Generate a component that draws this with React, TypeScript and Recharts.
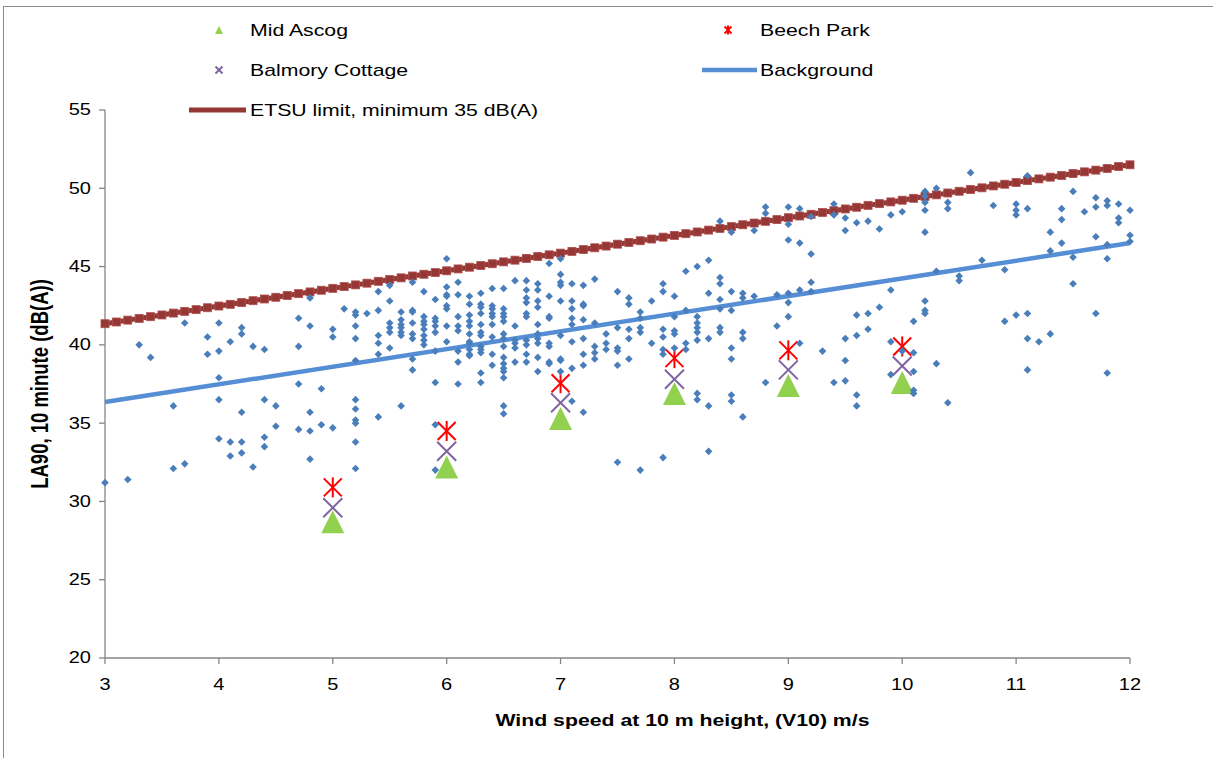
import React from 'react';
import { ScatterChart, Scatter, XAxis, YAxis, Legend, Label } from 'recharts';

const xTicks = [3, 4, 5, 6, 7, 8, 9, 10, 11, 12];
const yTicks = [20, 25, 30, 35, 40, 45, 50, 55];

const legendNames = ['Mid Ascog', 'Beech Park', 'Balmory Cottage', 'Background', 'ETSU limit, minimum 35 dB(A)'];

const siteWind = [5, 6, 7, 8, 9, 10];
const midAscog = [28.7, 32.2, 35.3, 36.9, 37.4, 37.6];
const beechPark = [30.9, 34.5, 37.55, 39.15, 39.65, 39.9];
const balmoryCottage = [29.6, 33.2, 36.3, 37.8, 38.4, 38.65];

const backgroundFitWind = [3, 12];
const backgroundFit = [36.35, 46.5];

const etsuWind = [
  3.0, 3.1, 3.2, 3.3, 3.4, 3.5, 3.6, 3.7, 3.8, 3.9,
  4.0, 4.1, 4.2, 4.3, 4.4, 4.5, 4.6, 4.7, 4.8, 4.9,
  5.0, 5.1, 5.2, 5.3, 5.4, 5.5, 5.6, 5.7, 5.8, 5.9,
  6.0, 6.1, 6.2, 6.3, 6.4, 6.5, 6.6, 6.7, 6.8, 6.9,
  7.0, 7.1, 7.2, 7.3, 7.4, 7.5, 7.6, 7.7, 7.8, 7.9,
  8.0, 8.1, 8.2, 8.3, 8.4, 8.5, 8.6, 8.7, 8.8, 8.9,
  9.0, 9.1, 9.2, 9.3, 9.4, 9.5, 9.6, 9.7, 9.8, 9.9,
  10.0, 10.1, 10.2, 10.3, 10.4, 10.5, 10.6, 10.7, 10.8, 10.9,
  11.0, 11.1, 11.2, 11.3, 11.4, 11.5, 11.6, 11.7, 11.8, 11.9,
  12.0,
];
const etsuLimit = [
  41.35, 41.46, 41.58, 41.69, 41.80, 41.91, 42.03, 42.14, 42.25, 42.37,
  42.48, 42.59, 42.70, 42.82, 42.93, 43.04, 43.15, 43.27, 43.38, 43.49,
  43.61, 43.72, 43.83, 43.94, 44.06, 44.17, 44.28, 44.40, 44.51, 44.62,
  44.73, 44.85, 44.96, 45.07, 45.18, 45.30, 45.41, 45.52, 45.64, 45.75,
  45.86, 45.97, 46.09, 46.20, 46.31, 46.43, 46.54, 46.65, 46.76, 46.88,
  46.99, 47.10, 47.21, 47.33, 47.44, 47.55, 47.67, 47.78, 47.89, 48.00,
  48.12, 48.23, 48.34, 48.46, 48.57, 48.68, 48.79, 48.91, 49.02, 49.13,
  49.24, 49.36, 49.47, 49.58, 49.70, 49.81, 49.92, 50.03, 50.15, 50.26,
  50.37, 50.49, 50.60, 50.71, 50.82, 50.94, 51.05, 51.16, 51.27, 51.39,
  51.50,
];

// background measurements: [wind speed, LA90 values measured at that wind speed]
const backgroundColumns: [number, number[]][] = [
  [3.0, [31.2]],
  [3.2, [31.4]],
  [3.3, [40.0]],
  [3.4, [39.2]],
  [3.6, [36.1, 32.1]],
  [3.7, [41.4, 32.4]],
  [3.9, [40.5, 39.4]],
  [4.0, [41.4, 39.6, 37.9, 36.5, 34.0]],
  [4.1, [40.2, 33.8, 32.9]],
  [4.2, [41.1, 40.7, 35.7, 33.8, 33.1]],
  [4.3, [39.9, 32.2]],
  [4.4, [39.7, 36.5, 34.1, 33.5]],
  [4.5, [36.1, 34.8]],
  [4.7, [41.7, 39.9, 37.5, 34.6]],
  [4.8, [43.0, 41.2, 35.7, 34.5, 32.7]],
  [4.9, [37.2, 34.9]],
  [5.0, [41.0, 40.5, 34.7]],
  [5.1, [42.3]],
  [5.2, [42.1, 41.9, 41.2, 40.4, 39.0, 36.5, 35.9, 35.2, 35.0, 33.8, 32.1]],
  [5.3, [42.0]],
  [5.4, [43.4, 42.2, 40.6, 40.1, 39.4, 35.4]],
  [5.5, [43.8, 42.8, 41.4, 41.1, 40.8, 39.8]],
  [5.6, [42.1, 41.6, 41.3, 41.1, 40.8, 40.6, 36.1]],
  [5.7, [44.0, 42.2, 42.1, 41.4, 40.7, 40.4, 39.1, 38.4]],
  [5.8, [43.4, 41.8, 41.5, 41.3, 41.0, 40.6, 40.3, 40.0]],
  [5.9, [42.9, 41.7, 41.5, 41.2, 40.8, 39.6, 37.6, 34.9, 32.0]],
  [6.0, [45.5, 43.7, 43.2, 43.1, 42.5, 42.3, 41.2, 40.2]],
  [6.1, [44.0, 43.2, 41.8, 41.2, 40.9, 39.6, 38.9, 37.5]],
  [6.2, [43.1, 42.6, 41.9, 41.5, 41.2, 40.7, 40.2, 40.1, 39.7, 39.4, 39.3]],
  [6.3, [43.3, 42.6, 42.4, 42.0, 41.3, 40.8, 40.6, 39.9, 39.7, 39.5, 38.2, 37.6]],
  [6.4, [43.6, 42.5, 42.3, 42.0, 41.8, 41.3, 40.5, 39.4, 38.7]],
  [6.5, [43.6, 42.3, 42.0, 41.8, 41.5, 40.7, 40.4, 39.9, 39.2, 38.8, 38.5, 38.3, 37.9, 36.1, 35.6]],
  [6.6, [44.1, 41.2, 40.3, 40.1, 39.8, 38.9]],
  [6.7, [44.1, 43.5, 43.0, 42.7, 42.0, 41.8, 40.3, 40.0, 39.4, 38.9]],
  [6.8, [43.9, 43.5, 42.8, 42.4, 41.3, 40.7, 40.4, 40.1, 39.2, 38.3]],
  [6.9, [45.2, 43.1, 41.8, 41.7, 40.1, 39.9, 38.9, 38.8]],
  [7.0, [45.5, 44.5, 44.0, 43.8, 42.8, 40.6, 39.1, 39.0, 38.3]],
  [7.1, [43.9, 42.8, 42.3, 41.7, 41.3, 40.2, 38.5, 36.4]],
  [7.2, [43.8, 42.6, 42.5, 41.6, 40.4, 39.4, 38.7, 35.7]],
  [7.3, [44.2, 41.4, 39.9, 39.5, 39.1]],
  [7.4, [40.7, 40.1, 39.7]],
  [7.5, [43.4, 41.1, 39.8, 39.6, 38.7, 32.5]],
  [7.6, [43.0, 42.6, 41.0, 40.4, 39.1]],
  [7.7, [42.1, 41.7, 41.1, 40.8, 32.0]],
  [7.8, [42.8, 40.1]],
  [7.9, [43.9, 43.4, 41.0, 40.5, 39.7, 39.4, 32.8]],
  [8.0, [43.1, 41.8, 40.9, 40.7, 39.8]],
  [8.1, [44.7, 42.2, 40.1, 39.7]],
  [8.2, [45.0, 41.8, 41.4, 41.1, 40.8, 40.3, 36.9, 36.5]],
  [8.3, [45.4, 43.3, 40.4, 36.1, 33.2]],
  [8.4, [47.9, 44.3, 43.9, 42.9, 42.3, 41.1, 40.8]],
  [8.5, [47.2, 43.4, 42.2, 39.8, 39.1, 36.8, 36.4]],
  [8.6, [43.3, 43.0, 40.8, 40.4, 35.4]],
  [8.7, [47.3, 43.1]],
  [8.8, [48.8, 48.4, 37.6]],
  [8.9, [43.2, 41.2]],
  [9.0, [48.8, 47.7, 46.7, 43.3, 42.7, 41.8]],
  [9.1, [48.7, 46.5, 43.5, 40.1]],
  [9.2, [48.2, 45.8, 44.0, 43.4]],
  [9.3, [39.6]],
  [9.4, [49.0, 48.3, 37.6]],
  [9.5, [48.1, 47.3, 40.4, 39.0, 37.7]],
  [9.6, [47.8, 41.9, 40.6, 36.8, 36.1]],
  [9.7, [47.9, 42.0, 41.0]],
  [9.8, [47.4, 42.4]],
  [9.9, [48.3, 43.5, 40.2, 38.1]],
  [10.0, [48.5, 39.6]],
  [10.1, [41.5, 39.5, 38.3, 37.1, 36.9]],
  [10.2, [49.8, 49.5, 49.1, 48.6, 47.2, 42.8, 42.2, 42.0]],
  [10.3, [50.0, 44.7, 38.8]],
  [10.4, [49.1, 48.7, 36.3]],
  [10.5, [44.4, 44.1]],
  [10.6, [51.0]],
  [10.7, [45.4]],
  [10.8, [48.9]],
  [10.9, [44.8, 41.5]],
  [11.0, [49.0, 48.6, 48.3, 41.9]],
  [11.1, [50.8, 48.7, 42.0, 40.4, 38.4]],
  [11.2, [40.2]],
  [11.3, [47.2, 46.0, 40.7]],
  [11.4, [48.7, 48.0, 46.5]],
  [11.5, [49.8, 45.6, 43.9]],
  [11.6, [48.5]],
  [11.7, [49.4, 48.8, 46.9, 42.0]],
  [11.8, [49.2, 48.9, 46.4, 45.5, 38.2]],
  [11.9, [49.0, 48.1, 47.8]],
  [12.0, [48.6, 47.0, 46.6]],
];

const toPoints = (xs: number[], ys: number[]) => xs.map((x, i) => ({ x, y: ys[i] }));

const backgroundPoints = backgroundColumns.flatMap(([x, ys]) => ys.map((y) => ({ x, y })));
const etsuPoints = toPoints(etsuWind, etsuLimit);
const fitPoints = toPoints(backgroundFitWind, backgroundFit);
const midPoints = toPoints(siteWind, midAscog);
const beechPoints = toPoints(siteWind, beechPark);
const balmoryPoints = toPoints(siteWind, balmoryCottage);

const FONT = '"Liberation Sans", Arial, sans-serif';
const AXIS = '#868686';
const C_BG = '#4A7EBB';
const C_FIT = '#558ED5';
const C_ETSU = '#953735';
const C_MID = '#92D050';
const C_BEECH = '#FF0000';
const C_BALM = '#8064A2';
const STRETCH = 1.25;

const stretchAt = (x: number) => `translate(${x},0) scale(${STRETCH},1) translate(${-x},0)`;

const DiamondShape = (p: any) => {
  const { cx, cy } = p;
  const r = 3.8;
  return <polygon points={`${cx},${cy - r} ${cx + r},${cy} ${cx},${cy + r} ${cx - r},${cy}`} fill={C_BG} />;
};

const SquareShape = (p: any) => {
  const { cx, cy } = p;
  return <rect x={cx - 4} y={cy - 4} width={8} height={8} fill={C_ETSU} stroke="#B0504E" strokeWidth={0.8} />;
};

const NoShape = () => <g />;

const drawTriangle = (cx: number, cy: number, w: number, h: number, color: string) => (
  <polygon points={`${cx},${cy - h} ${cx + w},${cy + h} ${cx - w},${cy + h}`} fill={color} />
);
const drawCross = (cx: number, cy: number, h: number, color: string) => (
  <g stroke={color} strokeWidth={2}>
    <line x1={cx - h} y1={cy - h} x2={cx + h} y2={cy + h} />
    <line x1={cx - h} y1={cy + h} x2={cx + h} y2={cy - h} />
  </g>
);
const drawStar = (cx: number, cy: number, h: number, color: string) => (
  <g stroke={color} strokeWidth={2}>
    <line x1={cx - h} y1={cy - h} x2={cx + h} y2={cy + h} />
    <line x1={cx - h} y1={cy + h} x2={cx + h} y2={cy - h} />
    <line x1={cx} y1={cy - h - 1} x2={cx} y2={cy + h + 1} />
  </g>
);

const TriangleShape = (p: any) => drawTriangle(p.cx, p.cy, 11.5, 11.5, C_MID);
const CrossShape = (p: any) => drawCross(p.cx, p.cy, 9.5, C_BALM);
const StarShape = (p: any) => drawStar(p.cx, p.cy, 9, C_BEECH);

const XTick = (p: any) => (
  <text x={p.x} y={p.y + 18} textAnchor="middle" fontSize={16} fontFamily={FONT} fill="#000" transform={stretchAt(p.x)}>
    {p.payload.value}
  </text>
);

const YTick = (p: any) => (
  <text x={p.x} y={p.y + 5.5} textAnchor="end" fontSize={16} fontFamily={FONT} fill="#000" transform={stretchAt(p.x)}>
    {p.payload.value}
  </text>
);

const LegendContent = () => {
  const colX = [250, 760];
  return (
    <svg width={1213} height={130} style={{ display: 'block' }}>
      {legendNames.map((name, i) => {
        const tx = colX[i % 2];
        const ty = 30 + 40 * Math.floor(i / 2);
        let sym: React.ReactNode = null;
        if (i === 0) sym = drawTriangle(tx - 31, ty, 4, 4, C_MID);
        if (i === 1) sym = drawStar(tx - 32, ty, 3.5, C_BEECH);
        if (i === 2) sym = drawCross(tx - 31, ty, 3.5, C_BALM);
        if (i === 3) sym = <line x1={tx - 58} y1={ty} x2={tx - 3} y2={ty} stroke={C_FIT} strokeWidth={4.5} />;
        if (i === 4) sym = <line x1={tx - 61} y1={ty} x2={tx - 4} y2={ty} stroke={C_ETSU} strokeWidth={5} />;
        return (
          <g key={name}>
            {sym}
            <text x={tx} y={ty + 6} fontSize={17} fontFamily={FONT} fill="#000" transform={stretchAt(tx)}>
              {name}
            </text>
          </g>
        );
      })}
    </svg>
  );
};

const YTitle = (props: any) => {
  const vb = props.viewBox || { x: 45, y: 110, width: 60, height: 548 };
  const x = vb.x + 3.3;
  const y = vb.y + vb.height / 2;
  return (
    <text
      x={x}
      y={y}
      transform={`${stretchAt(x)} rotate(-90, ${x}, ${y})`}
      textAnchor="middle"
      fontSize={18.5}
      fontWeight="bold"
      fontFamily={FONT}
      fill="#000"
    >
      LA90, 10 minute (dB(A))
    </text>
  );
};

const XTitle = (props: any) => {
  const vb = props.viewBox || { x: 105, y: 658, width: 1025, height: 40 };
  const x = vb.x + vb.width / 2 + 65;
  const y = vb.y + 68;
  return (
    <text x={x} y={y} textAnchor="middle" fontSize={17} fontWeight="bold" fontFamily={FONT} fill="#000" transform={stretchAt(x)}>
      Wind speed at 10 m height, (V10) m/s
    </text>
  );
};

export default function App() {
  return (
    <div style={{ position: 'absolute', left: 0, top: 0, width: 1213, height: 758, overflow: 'hidden', background: '#fff', fontFamily: FONT }}>
      <div style={{ position: 'absolute', left: 3, top: 6, width: 1400, height: 1000, border: '1px solid #8C8C8C', boxSizing: 'border-box' }} />
      <div style={{ position: 'absolute', left: 0, top: 0 }}>
        <ScatterChart width={1213} height={758} margin={{ top: 110, right: 83, bottom: 60, left: 45 }}>
          <XAxis
            type="number"
            dataKey="x"
            domain={[3, 12]}
            ticks={xTicks}
            interval={0}
            allowDecimals={false}
            height={40}
            tickSize={6}
            tickMargin={8}
            axisLine={{ stroke: AXIS, strokeWidth: 1.3 }}
            tickLine={{ stroke: AXIS, strokeWidth: 1.3 }}
            tick={XTick}
          >
            <Label content={XTitle} />
          </XAxis>
          <YAxis
            type="number"
            dataKey="y"
            domain={[20, 55]}
            ticks={yTicks}
            interval={0}
            width={60}
            tickSize={6}
            tickMargin={8}
            axisLine={{ stroke: AXIS, strokeWidth: 1.3 }}
            tickLine={{ stroke: AXIS, strokeWidth: 1.3 }}
            tick={YTick}
          >
            <Label content={YTitle} />
          </YAxis>
          <Legend
            layout="horizontal"
            verticalAlign="middle"
            align="center"
            content={LegendContent}
            wrapperStyle={{ position: 'absolute', top: 0, left: 0, width: 1213, height: 130 }}
          />
          <Scatter
            name="ETSU limit, minimum 35 dB(A)"
            data={etsuPoints}
            line={{ stroke: C_ETSU, strokeWidth: 5 }}
            lineType="joint"
            shape={SquareShape}
            isAnimationActive={false}
          />
          <Scatter
            name="Background"
            data={fitPoints}
            line={{ stroke: C_FIT, strokeWidth: 4.5 }}
            lineType="joint"
            shape={NoShape}
            isAnimationActive={false}
          />
          <Scatter name="Mid Ascog" data={midPoints} shape={TriangleShape} isAnimationActive={false} />
          <Scatter name="Balmory Cottage" data={balmoryPoints} shape={CrossShape} isAnimationActive={false} />
          <Scatter name="Beech Park" data={beechPoints} shape={StarShape} isAnimationActive={false} />
          <Scatter name="Background data" data={backgroundPoints} shape={DiamondShape} isAnimationActive={false} />
        </ScatterChart>
      </div>
    </div>
  );
}
